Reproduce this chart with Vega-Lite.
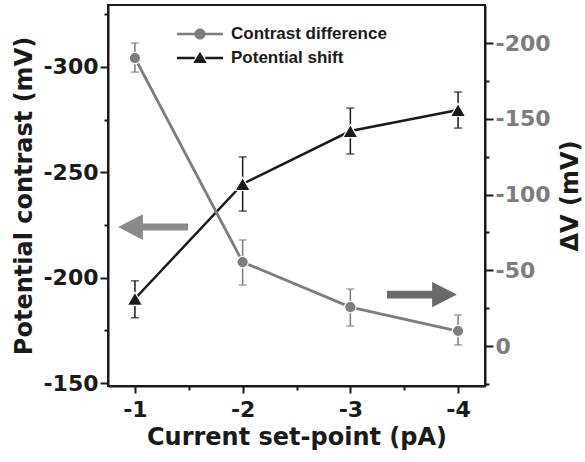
{
  "$schema": "https://vega.github.io/schema/vega-lite/v6.json",
  "width": 377,
  "height": 381,
  "autosize": {"type": "none"},
  "padding": {"left": 108, "top": 5, "right": 100, "bottom": 75},
  "config": {
    "view": {"stroke": "#1a1a1a", "strokeWidth": 2},
    "font": "DejaVu Sans",
    "axis": {
      "grid": false,
      "domainColor": "#1a1a1a",
      "domainWidth": 2,
      "tickColor": "#1a1a1a",
      "tickWidth": 2,
      "labelFont": "DejaVu Sans",
      "labelFontWeight": "bold",
      "labelFontSize": 22,
      "titleFont": "DejaVu Sans",
      "titleFontWeight": "bold",
      "titleFontSize": 24,
      "titleColor": "#1a1a1a",
      "labelOverlap": false,
      "labelFlush": false,
      "labelBound": false
    },
    "legend": {
      "title": null,
      "orient": "none",
      "legendX": 80,
      "legendY": 17,
      "padding": 0,
      "labelFont": "Liberation Sans",
      "labelFontSize": 17,
      "labelFontWeight": "bold",
      "labelColor": "#1a1a1a",
      "symbolSize": 576,
      "symbolStrokeWidth": 0,
      "labelOffset": 19,
      "rowPadding": 4
    }
  },
  "datasets": {
    "pts": [
      {"x": -1, "series": "Potential shift", "v": -190, "lo": -198.5, "hi": -181},
      {"x": -2, "series": "Potential shift", "v": -244.5, "lo": -257.3, "hi": -231.6},
      {"x": -3, "series": "Potential shift", "v": -269.6, "lo": -280.5, "hi": -258.7},
      {"x": -4, "series": "Potential shift", "v": -279.6, "lo": -288.1, "hi": -271},
      {"x": -1, "series": "Contrast difference", "v": -190.1, "lo": -200, "hi": -180.8},
      {"x": -2, "series": "Contrast difference", "v": -55.4, "lo": -70, "hi": -40.3},
      {"x": -3, "series": "Contrast difference", "v": -25.7, "lo": -37.6, "hi": -13.2},
      {"x": -4, "series": "Contrast difference", "v": -9.9, "lo": -20.5, "hi": -0.7}
    ],
    "arrows": [
      {"x": -1.168, "y": -224, "dir": "left"},
      {"x": -3.665, "y": -192, "dir": "right"}
    ]
  },
  "data": {"name": "pts"},
  "encoding": {
    "x": {
      "field": "x",
      "type": "quantitative",
      "scale": {"domain": [-0.75, -4.25], "nice": false, "zero": false},
      "axis": {
        "title": "Current set-point (pA)",
        "values": [-1, -1.5, -2, -2.5, -3, -3.5, -4],
        "labelExpr": "datum.value % 1 === 0 ? '' + datum.value : ''",
        "tickSize": {"condition": {"test": "datum.value % 1 === 0", "value": 7}, "value": 4},
        "labelPadding": 6,
        "labelColor": "#1a1a1a",
        "titlePadding": 5
      }
    }
  },
  "layer": [
    {
      "layer": [
        {
          "transform": [{"filter": "datum.series === 'Potential shift'"}],
          "mark": {"type": "rule", "color": "#1a1a1a", "strokeWidth": 1.5},
          "encoding": {
            "y": {"field": "lo", "type": "quantitative"},
            "y2": {"field": "hi"}
          }
        },
        {
          "transform": [{"filter": "datum.series === 'Potential shift'"}],
          "mark": {"type": "tick", "orient": "horizontal", "size": 8, "thickness": 1.5, "color": "#1a1a1a"},
          "encoding": {"y": {"field": "lo", "type": "quantitative"}}
        },
        {
          "transform": [{"filter": "datum.series === 'Potential shift'"}],
          "mark": {"type": "tick", "orient": "horizontal", "size": 8, "thickness": 1.5, "color": "#1a1a1a"},
          "encoding": {"y": {"field": "hi", "type": "quantitative"}}
        },
        {
          "transform": [{"filter": "datum.series === 'Potential shift'"}],
          "mark": {"type": "line", "color": "#1a1a1a", "strokeWidth": 2.5},
          "encoding": {"y": {"field": "v", "type": "quantitative"}}
        },
        {
          "data": {"name": "arrows"},
          "mark": {"type": "point", "filled": true, "size": 4900, "strokeWidth": 0, "opacity": 1},
          "encoding": {
            "y": {"field": "y", "type": "quantitative"},
            "shape": {
              "condition": {"test": "datum.dir === 'left'", "value": "M -1 0 L -0.29 -0.37 L -0.29 -0.1 L 1 -0.1 L 1 0.1 L -0.29 0.1 L -0.29 0.37 Z"},
              "value": "M 1 0 L 0.29 -0.36 L 0.29 -0.11 L -1 -0.11 L -1 0.11 L 0.29 0.11 L 0.29 0.36 Z"
            },
            "fill": {
              "condition": {"test": "datum.dir === 'left'", "value": "#8a8a8a"},
              "value": "#6a6a6a"
            }
          }
        },
        {
          "transform": [{"filter": "datum.series === 'Potential shift'"}],
          "mark": {"type": "point", "shape": "triangle-up", "filled": true, "size": 230, "stroke": "white", "strokeWidth": 1.2, "opacity": 1},
          "encoding": {
            "y": {
              "field": "v",
              "type": "quantitative",
              "scale": {"domain": [-148.6, -329.4], "nice": false, "zero": false},
              "axis": {
                "orient": "left",
                "title": "Potential contrast (mV)",
                "values": [-150, -175, -200, -225, -250, -275, -300, -325],
                "labelExpr": "datum.value % 50 === 0 ? '' + datum.value : ''",
                "tickSize": {"condition": {"test": "datum.value % 50 === 0", "value": 8}, "value": 4},
                "labelColor": "#1a1a1a",
                "labelPadding": 2,
                "titlePadding": 6
              }
            },
            "color": {
              "field": "series",
              "type": "nominal",
              "scale": {"domain": ["Contrast difference", "Potential shift"], "range": ["#7d7d7d", "#1a1a1a"]}
            }
          }
        }
      ]
    },
    {
      "layer": [
        {
          "transform": [{"filter": "datum.series === 'Contrast difference'"}],
          "mark": {"type": "rule", "color": "#7d7d7d", "strokeWidth": 1.5},
          "encoding": {
            "y": {"field": "lo", "type": "quantitative"},
            "y2": {"field": "hi"}
          }
        },
        {
          "transform": [{"filter": "datum.series === 'Contrast difference'"}],
          "mark": {"type": "tick", "orient": "horizontal", "size": 8, "thickness": 1.5, "color": "#7d7d7d"},
          "encoding": {"y": {"field": "lo", "type": "quantitative"}}
        },
        {
          "transform": [{"filter": "datum.series === 'Contrast difference'"}],
          "mark": {"type": "tick", "orient": "horizontal", "size": 8, "thickness": 1.5, "color": "#7d7d7d"},
          "encoding": {"y": {"field": "hi", "type": "quantitative"}}
        },
        {
          "transform": [{"filter": "datum.series === 'Contrast difference'"}],
          "mark": {"type": "line", "color": "#7d7d7d", "strokeWidth": 2.8},
          "encoding": {"y": {"field": "v", "type": "quantitative"}}
        },
        {
          "transform": [{"filter": "datum.series === 'Contrast difference'"}],
          "mark": {"type": "point", "filled": true, "size": 130, "stroke": "white", "strokeWidth": 1.2, "opacity": 1},
          "encoding": {
            "y": {
              "field": "v",
              "type": "quantitative",
              "scale": {"domain": [26.4, -225.1], "nice": false, "zero": false},
              "axis": {
                "orient": "right",
                "title": "ΔV (mV)",
                "titleAngle": 270,
                "titleBaseline": "top",
                "values": [25, 0, -25, -50, -75, -100, -125, -150, -175, -200],
                "labelExpr": "datum.value % 50 === 0 ? '' + datum.value : ''",
                "tickSize": {"condition": {"test": "datum.value % 50 === 0", "value": 8}, "value": 4},
                "labelColor": "#7d7d7d",
                "labelPadding": 2,
                "titlePadding": 8
              }
            },
            "color": {
              "field": "series",
              "type": "nominal",
              "scale": {"domain": ["Contrast difference", "Potential shift"], "range": ["#7d7d7d", "#1a1a1a"]}
            }
          }
        },
        {
          "transform": [{"filter": "false"}],
          "mark": {"type": "point", "filled": true, "opacity": 1},
          "encoding": {
            "y": {"field": "v", "type": "quantitative"},
            "color": {
              "field": "series",
              "type": "nominal",
              "scale": {"domain": ["Contrast difference", "Potential shift"], "range": ["#7d7d7d", "#1a1a1a"]}
            },
            "shape": {
              "field": "series",
              "type": "nominal",
              "scale": {
                "domain": ["Contrast difference", "Potential shift"],
                "range": [
                  "M -1.92 -0.1 L -0.4 -0.1 L -0.4 0.1 L -1.92 0.1 Z M 0.4 -0.1 L 1.92 -0.1 L 1.92 0.1 L 0.4 0.1 Z M -0.46 0 A 0.46 0.46 0 1 1 0.46 0 A 0.46 0.46 0 1 1 -0.46 0 Z",
                  "M -1.92 -0.1 L -0.45 -0.1 L -0.45 0.1 L -1.92 0.1 Z M 0.45 -0.1 L 1.92 -0.1 L 1.92 0.1 L 0.45 0.1 Z M 0 -0.52 L 0.56 0.42 L -0.56 0.42 Z"
                ]
              }
            }
          }
        }
      ]
    }
  ],
  "resolve": {"scale": {"y": "independent"}, "axis": {"y": "independent"}}
}
